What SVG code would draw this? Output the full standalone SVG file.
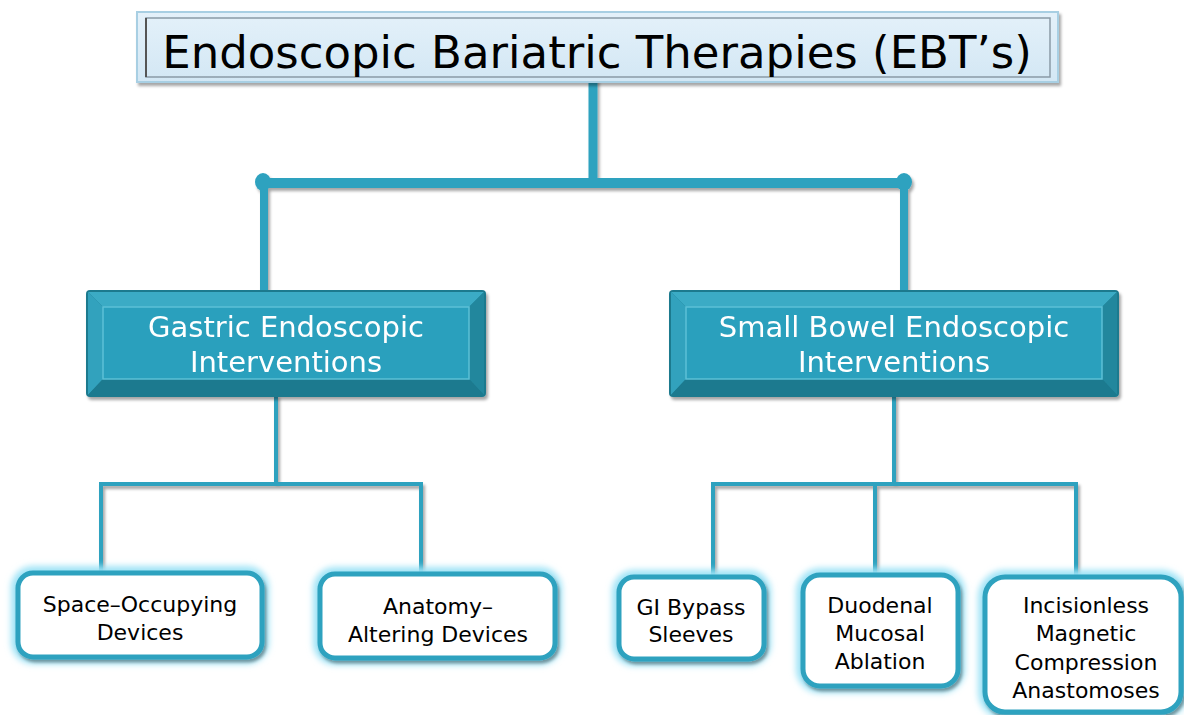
<svg xmlns="http://www.w3.org/2000/svg" width="1184" height="715" viewBox="0 0 1184 715">
<defs>
<style>
.conn{stroke:#2ea2bf;fill:none;stroke-linecap:square}
.t-main{font-family:"DejaVu Sans",sans-serif;font-size:45px;fill:#000;text-anchor:middle}
.t-mid{font-family:"DejaVu Sans",sans-serif;font-size:29px;fill:#fff;text-anchor:middle}
.t-leaf{font-family:"DejaVu Sans",sans-serif;font-size:22px;fill:#000;text-anchor:middle}
.leaf{fill:#fff;stroke:#2ea2bf;stroke-width:5}
.glow{fill:none;stroke:#9fe3f6;stroke-width:14;filter:url(#blur)}
</style>
<filter id="sh" x="-10%" y="-10%" width="130%" height="140%">
<feDropShadow dx="2" dy="3" stdDeviation="1.5" flood-color="#000" flood-opacity="0.35"/>
</filter>
<filter id="blur" x="-20%" y="-20%" width="140%" height="140%">
<feGaussianBlur stdDeviation="3"/>
</filter>
<linearGradient id="topfill" x1="0" y1="0" x2="0" y2="1">
<stop offset="0" stop-color="#e4f1fa"/>
<stop offset="1" stop-color="#d3e7f4"/>
</linearGradient>
</defs>
<rect width="1184" height="715" fill="#fff"/>

<g id="connectors" filter="url(#sh)">
<line class="conn" x1="593" y1="82" x2="593" y2="180" stroke-width="9"/>
<line class="conn" x1="263" y1="183" x2="904" y2="183" stroke-width="10"/>
<ellipse cx="263" cy="182" rx="8" ry="9" fill="#2ea2bf"/>
<ellipse cx="904" cy="182" rx="8" ry="9" fill="#2ea2bf"/>
<line class="conn" x1="264" y1="183" x2="264" y2="290" stroke-width="8"/>
<line class="conn" x1="904" y1="183" x2="904" y2="290" stroke-width="8"/>
<path class="conn" d="M276 397 V484 M101 575 V484 H421 V575" stroke-width="4"/>
<path class="conn" d="M894 397 V484 M713 578 V484 H1076 V578 M875 484 V576" stroke-width="4"/>
</g>

<g id="root">
<rect x="137" y="12" width="921" height="70" fill="url(#topfill)" stroke="#a8cfe3" stroke-width="2" filter="url(#sh)"/>
<rect x="146" y="18" width="904" height="59" fill="none" stroke="#8a9aa6" stroke-width="1.5"/>
<line x1="146" y1="18" x2="146" y2="77" stroke="#555" stroke-width="2"/>
<text class="t-main" x="597" y="68">Endoscopic Bariatric Therapies (EBT’s)</text>
</g>

<g id="gastric" filter="url(#sh)">
<rect x="86" y="290" width="400" height="107" rx="4" fill="#1d7a8e"/>
<polygon points="88,292 484,292 469,307 103,307" fill="#3aabc5"/>
<polygon points="88,292 103,307 103,379 88,395" fill="#33a2bd"/>
<polygon points="484,292 484,395 469,379 469,307" fill="#23879d"/>
<polygon points="88,395 484,395 469,379 103,379" fill="#1e7a8f"/>
<rect x="103" y="307" width="366" height="72" fill="#2aa0bd" stroke="#5cc0d6" stroke-width="1.5"/>
<text class="t-mid" x="286" y="337">Gastric Endoscopic</text>
<text class="t-mid" x="286" y="372">Interventions</text>
</g>

<g id="smallbowel" filter="url(#sh)">
<rect x="669" y="290" width="450" height="107" rx="4" fill="#1d7a8e"/>
<polygon points="671,292 1117,292 1102,307 686,307" fill="#3aabc5"/>
<polygon points="671,292 686,307 686,379 671,395" fill="#33a2bd"/>
<polygon points="1117,292 1117,395 1102,379 1102,307" fill="#23879d"/>
<polygon points="671,395 1117,395 1102,379 686,379" fill="#1e7a8f"/>
<rect x="686" y="307" width="416" height="72" fill="#2aa0bd" stroke="#5cc0d6" stroke-width="1.5"/>
<text class="t-mid" x="894" y="337">Small Bowel Endoscopic</text>
<text class="t-mid" x="894" y="372">Interventions</text>
</g>

<g id="space">
<rect class="glow" x="18" y="573" width="244" height="84" rx="15"/>
<rect class="leaf" x="18" y="573" width="244" height="84" rx="15" filter="url(#sh)"/>
<text class="t-leaf" x="140" y="612">Space–Occupying</text>
<text class="t-leaf" x="140" y="640">Devices</text>
</g>

<g id="anatomy">
<rect class="glow" x="320" y="574" width="235" height="84" rx="15"/>
<rect class="leaf" x="320" y="574" width="235" height="84" rx="15" filter="url(#sh)"/>
<text class="t-leaf" x="438" y="614">Anatomy–</text>
<text class="t-leaf" x="438" y="642">Altering Devices</text>
</g>

<g id="gibypass">
<rect class="glow" x="619" y="577" width="145" height="82" rx="15"/>
<rect class="leaf" x="619" y="577" width="145" height="82" rx="15" filter="url(#sh)"/>
<text class="t-leaf" x="691" y="615">GI Bypass</text>
<text class="t-leaf" x="691" y="642">Sleeves</text>
</g>

<g id="duodenal">
<rect class="glow" x="803" y="575" width="155" height="111" rx="17"/>
<rect class="leaf" x="803" y="575" width="155" height="111" rx="17" filter="url(#sh)"/>
<text class="t-leaf" x="880" y="613">Duodenal</text>
<text class="t-leaf" x="880" y="641">Mucosal</text>
<text class="t-leaf" x="880" y="669">Ablation</text>
</g>

<g id="incisionless">
<rect class="glow" x="985" y="577" width="196" height="135" rx="20"/>
<rect class="leaf" x="985" y="577" width="196" height="135" rx="20" filter="url(#sh)"/>
<text class="t-leaf" x="1086" y="613">Incisionless</text>
<text class="t-leaf" x="1086" y="641">Magnetic</text>
<text class="t-leaf" x="1086" y="670">Compression</text>
<text class="t-leaf" x="1086" y="698">Anastomoses</text>
</g>
</svg>
